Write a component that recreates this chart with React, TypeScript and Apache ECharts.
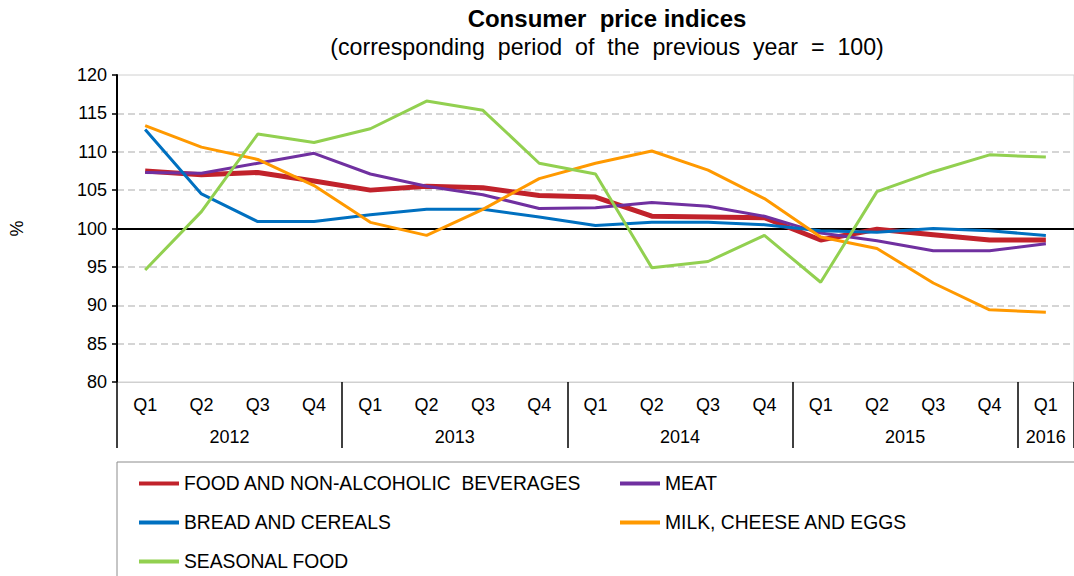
import React, { useEffect, useRef } from "react";
import * as echarts from "echarts";

const QUARTERS = ["Q1","Q2","Q3","Q4","Q1","Q2","Q3","Q4","Q1","Q2","Q3","Q4","Q1","Q2","Q3","Q4","Q1"];
const YEARS = ["2012", "2013", "2014", "2015", "2016"];
const QUARTERS_PER_YEAR = [4, 4, 4, 4, 1];

const SERIES_NAMES = [
  "FOOD AND NON-ALCOHOLIC  BEVERAGES",
  "MEAT",
  "BREAD AND CEREALS",
  "MILK, CHEESE AND EGGS",
  "SEASONAL FOOD",
];
const FOOD = [107.5, 107.0, 107.3, 106.2, 105.0, 105.5, 105.3, 104.3, 104.1, 101.6, 101.5, 101.4, 98.5, 99.9, 99.2, 98.5, 98.5];
const MEAT = [107.3, 107.2, 108.5, 109.8, 107.1, 105.5, 104.4, 102.6, 102.7, 103.4, 102.9, 101.6, 99.4, 98.4, 97.1, 97.1, 98.0];
const BREAD = [112.9, 104.5, 100.9, 100.9, 101.8, 102.5, 102.5, 101.5, 100.4, 100.8, 100.8, 100.5, 99.7, 99.5, 100.0, 99.7, 99.1];
const MILK = [113.4, 110.6, 109.0, 105.6, 100.8, 99.1, 102.5, 106.5, 108.5, 110.1, 107.6, 103.9, 98.9, 97.4, 92.9, 89.4, 89.1];
const SEASONAL = [94.6, 102.2, 112.3, 111.2, 113.0, 116.6, 115.4, 108.5, 107.1, 94.9, 95.7, 99.1, 93.0, 104.8, 107.4, 109.6, 109.3];
const BASE = 100;

const COLORS = ["#C1222B", "#7030A0", "#0070C0", "#FF9900", "#92D050"];
const WIDTHS = [5, 3, 3, 3, 3];
const FONT = "'Liberation Sans', Arial, sans-serif";

export default function App() {
  const ref = useRef<HTMLDivElement>(null);
  useEffect(() => {
    document.body.style.margin = "0";
    const chart = echarts.init(ref.current!, null, { renderer: "svg" });
    const values = [FOOD, MEAT, BREAD, MILK, SEASONAL];

    const bounds: number[] = [0];
    const mids: number[] = [];
    const midYear: Record<string, string> = {};
    let acc = 0;
    QUARTERS_PER_YEAR.forEach((n, i) => {
      mids.push(acc + n / 2);
      midYear[String(acc + n / 2)] = YEARS[i];
      acc += n;
      bounds.push(acc);
    });

    const series: any[] = values.map((d, i) => ({
      name: SERIES_NAMES[i],
      type: "line",
      data: d,
      xAxisIndex: 0,
      yAxisIndex: 0,
      showSymbol: false,
      symbol: "none",
      lineStyle: { color: COLORS[i], width: WIDTHS[i] },
      itemStyle: { color: COLORS[i] },
      z: 3,
    }));
    series[0].markLine = {
      silent: true,
      symbol: "none",
      label: { show: false },
      lineStyle: { color: "#000", width: 2, type: "solid" },
      data: [{ yAxis: BASE }],
      z: 2,
    };
    chart.setOption({
      animation: false,
      textStyle: { fontFamily: FONT },
      title: [
        {
          text: "Consumer  price indices",
          left: 607,
          top: 6,
          textAlign: "center",
          padding: 0,
          textStyle: { fontSize: 24, fontWeight: "bold", color: "#000", fontFamily: FONT },
        },
        {
          text: "(corresponding  period  of  the  previous  year  =  100)",
          left: 607,
          top: 35,
          textAlign: "center",
          padding: 0,
          textStyle: { fontSize: 23.2, fontWeight: "normal", color: "#000", fontFamily: FONT },
        },
      ],
      grid: {
        left: 117,
        right: 0,
        top: 75,
        bottom: 194,
        containLabel: false,
        show: true,
        borderColor: "#D0D0D0",
        borderWidth: 1,
        backgroundColor: "transparent",
      },
      legend: {
        left: 117,
        top: 462,
        width: 960,
        padding: [10, 10, 10, 22],
        borderColor: "#8C8C8C",
        borderWidth: 1,
        icon: "rect",
        itemWidth: 40,
        itemHeight: 4,
        itemGap: 16,
        data: SERIES_NAMES,
        textStyle: {
          fontSize: 19.3,
          color: "#000",
          fontFamily: FONT,
          width: 420,
          lineHeight: 23,
        },
      },
      xAxis: [
        {
          type: "category",
          data: QUARTERS,
          boundaryGap: true,
          position: "bottom",
          axisLine: { show: false },
          axisTick: { show: false },
          splitLine: { show: false },
          axisLabel: { fontSize: 18, color: "#000", margin: 14, fontFamily: FONT, interval: 0 },
        },
        {
          type: "value",
          min: 0,
          max: bounds[bounds.length - 1],
          position: "bottom",
          axisLine: { show: true, lineStyle: { color: "#D0D0D0", width: 1 } },
          axisTick: {
            show: true,
            customValues: bounds,
            length: 66,
            lineStyle: { color: "#000", width: 1.5 },
          },
          axisLabel: {
            show: true,
            customValues: mids,
            fontSize: 18,
            color: "#000",
            margin: 46,
            fontFamily: FONT,
            formatter: (v: number) => midYear[String(v)] ?? "",
          },
          splitLine: { show: false },
        },
      ],
      yAxis: {
        type: "value",
        min: 80,
        max: 120,
        interval: 5,
        name: "%",
        nameLocation: "middle",
        nameRotate: 90,
        nameGap: 91,
        nameTextStyle: { fontSize: 18, color: "#000", fontFamily: FONT },
        axisLine: { show: true, lineStyle: { color: "#000", width: 2 } },
        axisTick: { show: true, length: 5, lineStyle: { color: "#000", width: 1.5 } },
        axisLabel: { fontSize: 18, color: "#000", margin: 10, fontFamily: FONT },
        splitLine: {
          show: true,
          showMinLine: false,
          showMaxLine: false,
          lineStyle: { color: "#C8C8C8", width: 1.5, type: [7, 4] },
        },
      },
      series,
    });
    return () => chart.dispose();
  }, []);
  return <div ref={ref} style={{ width: 1074, height: 576 }} />;
}
